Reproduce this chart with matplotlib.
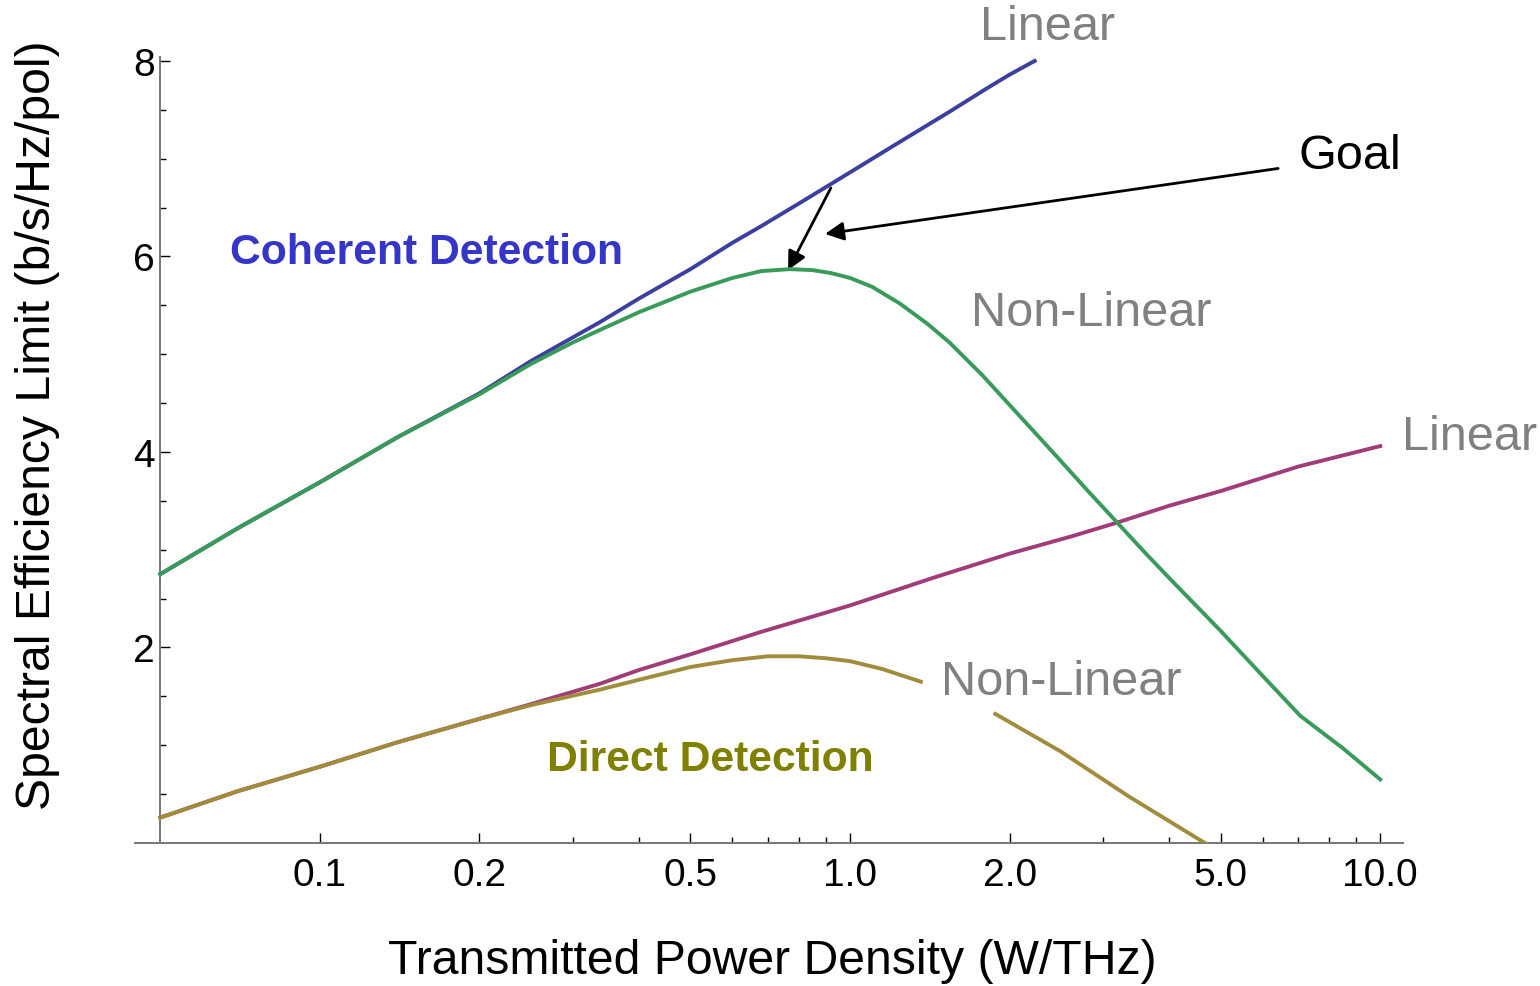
import matplotlib.pyplot as plt
import numpy as np
from matplotlib.ticker import FixedLocator, NullFormatter

plt.rcParams['font.family'] = ['Liberation Sans', 'DejaVu Sans']

# coherent detection, linear channel
coh_lin_x = [0.05, 0.07, 0.1, 0.14, 0.2, 0.25, 0.338, 0.4, 0.5, 0.6, 0.68, 0.8, 0.92, 1.0,
             1.24, 1.54, 1.8, 2.0, 2.23]
coh_lin_y = [2.75, 3.22, 3.69, 4.15, 4.60, 4.93, 5.33, 5.57, 5.87, 6.14, 6.31, 6.54, 6.74, 6.86,
             7.17, 7.48, 7.71, 7.86, 8.00]

# coherent detection, non-linear channel
coh_nl_x = [0.05, 0.07, 0.1, 0.14, 0.2, 0.25, 0.3, 0.338, 0.4, 0.5, 0.6, 0.68, 0.77, 0.85,
            0.92, 1.0, 1.1, 1.24, 1.4, 1.54, 1.78, 2.0, 2.41, 2.8, 3.2, 3.6, 4.0, 5.0,
            6.0, 7.07, 8.5, 10.0]
coh_nl_y = [2.75, 3.22, 3.69, 4.15, 4.59, 4.90, 5.12, 5.25, 5.43, 5.64, 5.78, 5.85, 5.87, 5.86,
            5.83, 5.78, 5.69, 5.52, 5.31, 5.12, 4.78, 4.48, 4.00, 3.61, 3.27, 2.97, 2.71, 2.17,
            1.71, 1.30, 0.97, 0.65]

# direct detection, linear channel
dir_lin_x = [0.05, 0.07, 0.1, 0.14, 0.2, 0.25, 0.338, 0.4, 0.5, 0.68, 1.0, 1.43, 2.0, 2.63,
             3.2, 4.0, 5.0, 7.0, 10.0]
dir_lin_y = [0.26, 0.53, 0.78, 1.03, 1.27, 1.42, 1.63, 1.77, 1.93, 2.16, 2.43, 2.71, 2.96, 3.14,
             3.28, 3.45, 3.60, 3.85, 4.06]

# direct detection, non-linear channel (gap left for the label)
dir_nl_x = [0.05, 0.07, 0.1, 0.14, 0.2, 0.25, 0.338, 0.4, 0.5, 0.6, 0.7, 0.8, 0.9, 1.0, 1.15,
            1.36, np.nan, 1.88, 2.49, 3.37, 4.67]
dir_nl_y = [0.26, 0.53, 0.78, 1.03, 1.27, 1.41, 1.57, 1.67, 1.80, 1.87, 1.91, 1.91, 1.89, 1.86,
            1.78, 1.65, np.nan, 1.32, 0.94, 0.47, 0.0]

x_major = [0.1, 0.2, 0.5, 1.0, 2.0, 5.0, 10.0]
x_labels = ['0.1', '0.2', '0.5', '1.0', '2.0', '5.0', '10.0']
x_minor = [0.3, 0.4, 0.6, 0.7, 0.8, 0.9, 3, 4, 6, 7, 8, 9]
y_major = [2, 4, 6, 8]
y_minor = [0.5, 1, 1.5, 2.5, 3, 3.5, 4.5, 5, 5.5, 6.5, 7, 7.5]

fig = plt.figure(figsize=(15.4, 9.87), dpi=100)
ax = fig.add_axes([135 / 1540, 143 / 987, 1268 / 1540, 786 / 987])

lw = 2.8
ax.plot(coh_lin_x, coh_lin_y, color='#3d3f9e', lw=lw, zorder=3)
ax.plot(coh_nl_x, coh_nl_y, color='#3a9a5a', lw=lw, zorder=4)
ax.plot(dir_lin_x, dir_lin_y, color='#a03c78', lw=lw, zorder=3)
ax.plot(dir_nl_x, dir_nl_y, color='#a08c3c', lw=lw, zorder=4)

ax.set_xscale('log')
ax.set_xlim(0.0448, 11.04)
ax.set_ylim(0, 8.04)

for s in ['top', 'right']:
    ax.spines[s].set_visible(False)
ax.spines['left'].set_position(('data', 0.05))
ax.spines['left'].set_bounds(0, 8.04)
for s in ['left', 'bottom']:
    ax.spines[s].set_color('#777777')
    ax.spines[s].set_linewidth(1.4)

ax.xaxis.set_major_locator(FixedLocator(x_major))
ax.set_xticklabels(x_labels)
ax.xaxis.set_minor_locator(FixedLocator(x_minor))
ax.xaxis.set_minor_formatter(NullFormatter())
ax.yaxis.set_major_locator(FixedLocator(y_major))
ax.yaxis.set_minor_locator(FixedLocator(y_minor))

ax.tick_params(axis='both', which='major', direction='in', labelsize=28, color='black', width=1.0)
ax.tick_params(axis='x', which='major', length=7, pad=10)
ax.tick_params(axis='y', which='major', length=7, pad=4)
ax.tick_params(axis='both', which='minor', direction='in', length=4, width=1.0, color='black')

fig.text(772 / 1540, 1 - 962 / 987, 'Transmitted Power Density (W/THz)', fontsize=34.7,
         ha='center', va='center')
fig.text(38 / 1540, 1 - 425 / 987, 'Spectral Efficiency Limit (b/s/Hz/pol)', fontsize=34.7,
         ha='center', va='center', rotation=90)

grey = '#808080'
ax.text(2.36, 8.35, 'Linear', fontsize=35, color=grey, ha='center', va='center', clip_on=False)
ax.text(14.75, 4.16, 'Linear', fontsize=35, color=grey, ha='center', va='center', clip_on=False)
ax.text(2.85, 5.43, 'Non-Linear', fontsize=35, color=grey, ha='center', va='center')
ax.text(2.50, 1.65, 'Non-Linear', fontsize=35, color=grey, ha='center', va='center')
ax.text(8.77, 7.03, 'Goal', fontsize=35, color='black', ha='center', va='center')
ax.text(0.159, 6.05, 'Coherent Detection', fontsize=30.7, color='#3535c8', fontweight='bold',
        ha='center', va='center')
ax.text(0.544, 0.86, 'Direct Detection', fontsize=30.7, color='#808000', fontweight='bold',
        ha='center', va='center')

arrow = dict(arrowstyle='-|>', color='black', lw=2, mutation_scale=28, shrinkA=0, shrinkB=0)
ax.annotate('', xy=(0.764, 5.86), xytext=(0.92, 6.70), arrowprops=arrow)
ax.annotate('', xy=(0.897, 6.23), xytext=(6.42, 6.90), arrowprops=arrow)

fig.savefig('out.png', dpi=100)
